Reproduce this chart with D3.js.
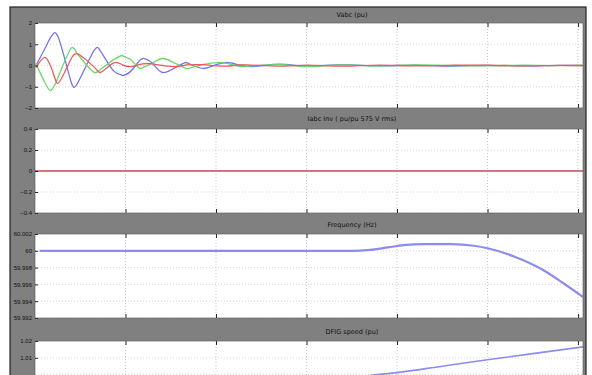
<!DOCTYPE html>
<html>
<head>
<meta charset="utf-8">
<script src="https://cdn.jsdelivr.net/npm/d3@7"></script>
<style>
  html, body { margin: 0; padding: 0; background: #fff; }
  svg { display: block; font-family: "DejaVu Sans", sans-serif; }
</style>
</head>
<body>
<div id="chart"></div>
<script>
// time axis (s)
const timeDomain = [0, 6.055];
const timeTicks = [0, 1, 2, 3, 4, 5, 6];

// panel titles
const titles = ['Vabc (pu)', 'Iabc Inv ( pu/pu 575 V rms)', 'Frequency (Hz)', 'DFIG speed (pu)'];

// panel 1 - Vabc
const vT = [0.01, 0.11, 0.17, 0.22, 0.25, 0.41, 0.43, 0.46, 0.66, 0.69, 0.72, 0.88, 0.96, 0.97, 1.05, 1.16, 1.19, 1.27, 1.41, 1.55, 1.66, 1.68, 1.86, 2.01, 2.12, 2.27, 2.38, 2.7, 3.0, 3.4, 3.8, 4.2, 4.6, 5.0, 5.4, 5.8, 6.05];
const vA = [0.0, 0.8, 1.3, 1.55, 1.4, -0.9, -1.04, -0.9, 0.75, 0.85, 0.7, -0.3, -0.45, -0.47, -0.3, 0.25, 0.33, 0.2, -0.33, -0.1, 0.14, 0.12, -0.14, 0.05, 0.14, 0.02, -0.05, 0.06, -0.03, 0.04, -0.02, 0.02, -0.03, 0.01, -0.02, 0.01, 0.0];
const vB = [0.1, -0.8, -1.18, -0.9, -0.6, 0.85, 0.8, 0.6, -0.33, -0.3, -0.2, 0.3, 0.47, 0.45, 0.3, -0.14, -0.1, 0.05, 0.33, 0.1, -0.12, -0.14, 0.05, 0.14, 0.1, -0.05, -0.02, 0.04, -0.05, 0.03, -0.02, 0.03, 0.0, -0.02, 0.02, -0.01, 0.0];
const vC = [-0.1, 0.38, 0.0, -0.6, -0.85, 0.4, 0.5, 0.56, -0.1, -0.25, -0.33, 0.14, 0.05, 0.02, -0.05, 0.05, 0.08, 0.09, 0.0, -0.05, 0.02, 0.03, 0.04, -0.02, -0.03, 0.03, 0.02, -0.03, 0.02, -0.03, 0.02, -0.02, 0.01, 0.02, -0.02, 0.01, 0.0];

// panel 2 - inverter currents
const iT = [0.0, 6.055];
const iA = [0.004, 0.004];
const iB = [-0.004, -0.004];
const iC = [0.0, 0.0];

// panel 3 - frequency
const fT = [0.05, 3.5, 3.7, 3.9, 4.1, 4.3, 4.6, 4.85, 5.0, 5.3, 5.6, 5.83, 6.055];
const fV = [60.0, 60.0, 60.0001, 60.0004, 60.0007, 60.0008, 60.0008, 60.0006, 60.0003, 59.9993, 59.9978, 59.9962, 59.9945];

// panel 4 - DFIG speed
const sT = [0.05, 2.5, 3.0, 3.4, 3.7, 4.0, 4.5, 5.0, 5.5, 6.055];
const sV = [0.99, 0.99, 0.993, 0.997, 0.9995, 1.0012, 1.005, 1.0088, 1.0125, 1.0165];

const yTicks1 = [-2, -1, 0, 1, 2];
const yTicks2 = [-0.4, -0.2, 0, 0.2, 0.4];
const yTicks3 = [59.992, 59.994, 59.996, 59.998, 60, 60.002];
const yTicks4 = [0.97, 0.98, 0.99, 1.0, 1.01, 1.02];

const W = 592, H = 375;
const left = 35, right = 583;

const svg = d3.select('#chart').append('svg')
  .attr('width', W).attr('height', H);

// figure background
svg.append('rect').attr('x', 10).attr('y', 7).attr('width', 576).attr('height', 380)
  .attr('fill', '#808080').attr('stroke', '#222').attr('stroke-width', 1.2);

const x = d3.scaleLinear().domain(timeDomain).range([left, right]);

const panels = [
  { top: 23, bottom: 108, domain: [-2, 2], ticks: yTicks1, fmt: d3.format('d'), titleY: 17, curve: d3.curveCatmullRom,
    series: [{ t: vT, v: vA, c: '#7474f2' }, { t: vT, v: vB, c: '#6cd86c' }, { t: vT, v: vC, c: '#ec5a5a' }] },
  { top: 129, bottom: 213, domain: [-0.4, 0.4], ticks: yTicks2, fmt: d => d === 0 ? '0' : d3.format('.1f')(d), titleY: 121, curve: d3.curveLinear,
    series: [{ t: iT, v: iA, c: '#7474f2' }, { t: iT, v: iB, c: '#6cd86c' }, { t: iT, v: iC, c: '#ec6a6a' }] },
  { top: 234, bottom: 318, domain: [59.992, 60.002], ticks: yTicks3, fmt: d => d === 60 ? '60' : d3.format('.3f')(d), titleY: 227, curve: d3.curveMonotoneX,
    series: [{ t: fT, v: fV, c: '#8c8cf0', w: 2.2 }] },
  { top: 341, bottom: 425, domain: [0.97, 1.02], ticks: yTicks4, fmt: d3.format('.2f'), titleY: 334, curve: d3.curveMonotoneX,
    series: [{ t: sT, v: sV, c: '#8c8cf0', w: 1.6 }] }
];

panels.forEach((p, i) => {
  const y = d3.scaleLinear().domain(p.domain).range([p.bottom, p.top]);
  const g = svg.append('g');

  g.append('rect').attr('x', left).attr('y', p.top)
    .attr('width', right - left).attr('height', p.bottom - p.top)
    .attr('fill', '#fff');

  // grid
  g.selectAll('.vg').data(timeTicks.slice(1)).enter().append('line')
    .attr('x1', d => x(d)).attr('x2', d => x(d))
    .attr('y1', p.top).attr('y2', p.bottom)
    .attr('stroke', '#aaa').attr('stroke-width', 0.6).attr('stroke-dasharray', '1,2');
  g.selectAll('.hg').data(p.ticks).enter().append('line')
    .attr('x1', left).attr('x2', right)
    .attr('y1', d => y(d)).attr('y2', d => y(d))
    .attr('stroke', '#bbb').attr('stroke-width', 0.6).attr('stroke-dasharray', '1,2');

  // lines
  p.series.forEach(s => {
    const line = d3.line().x((d, k) => x(s.t[k])).y(d => y(d)).curve(p.curve);
    g.append('path').datum(s.v)
      .attr('fill', 'none').attr('stroke', s.c)
      .attr('stroke-width', s.w || 1.3).attr('d', line);
  });

  // axes (labels only where they fit in the window)
  const shown = p.ticks.filter(d => y(d) < H - 4);
  const ya = g.append('g').attr('transform', `translate(${left},0)`)
    .call(d3.axisLeft(y).tickValues(shown).tickFormat(p.fmt).tickSize(-3).tickPadding(3));
  ya.select('.domain').remove();
  ya.selectAll('text').attr('font-size', 6).attr('fill', '#111');
  ya.selectAll('line').attr('stroke', '#222');

  const xt = g.append('g').attr('transform', `translate(0,${p.top})`)
    .call(d3.axisTop(x).tickValues(timeTicks.slice(1)).tickFormat('').tickSize(-4));
  xt.select('.domain').remove();
  xt.selectAll('line').attr('stroke', '#222');
  const xb = g.append('g').attr('transform', `translate(0,${p.bottom})`)
    .call(d3.axisBottom(x).tickValues(timeTicks.slice(1)).tickFormat('').tickSize(-4));
  xb.select('.domain').remove();
  xb.selectAll('line').attr('stroke', '#222');

  g.append('rect').attr('x', left).attr('y', p.top)
    .attr('width', right - left).attr('height', p.bottom - p.top)
    .attr('fill', 'none').attr('stroke', '#555').attr('stroke-width', 0.6);

  g.append('text').attr('x', 352).attr('y', p.titleY)
    .attr('text-anchor', 'middle').attr('font-size', 6.5).attr('fill', '#111')
    .text(titles[i]);
});
</script>
</body>
</html>
